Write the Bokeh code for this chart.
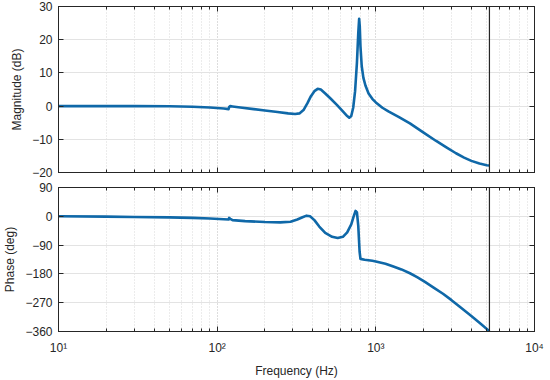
from bokeh.plotting import figure
from bokeh.layouts import column
from bokeh.models import (Range1d, LogAxis, LinearAxis, FixedTicker, LogTicker,
                          CustomJSTickFormatter, Span, ColumnDataSource)
from bokeh.embed import file_html
from bokeh.resources import INLINE

# ---------------- data ----------------
MAG_FREQ_HZ = [10, 20, 30, 50, 70, 90, 110, 118, 119, 121, 125, 140, 170, 200, 240,
               280, 310, 330, 350, 370, 390, 410, 430, 450, 480, 520, 570, 620, 660,
               680, 700, 720, 740, 760, 775, 785, 792, 800, 815, 835, 860, 900, 950,
               1000, 1100, 1200, 1400, 1640, 2000, 2400, 2800, 3200, 3600, 4000,
               4500, 5000, 5200]
MAG_DB = [0, 0, 0, -0.05, -0.2, -0.4, -0.7, -0.9, -0.3, 0.0, -0.1, -0.4, -0.9, -1.3, -1.8,
          -2.2, -2.4, -2.2, -1.2, 0.8, 3.0, 4.5, 5.2, 5.0, 3.8, 2.2, 0.3, -1.6, -3.0,
          -3.5, -3.0, -0.5, 4.5, 13.0, 22.0, 26.3, 24.0, 18.0, 12.0, 8.5, 6.2, 3.8, 2.2,
          1.1, -0.5, -1.6, -3.3, -5.2, -8.0, -10.5, -12.5, -14.2, -15.5, -16.5,
          -17.3, -17.8, -17.9]

PHASE_FREQ_HZ = [10, 20, 30, 50, 70, 90, 110, 118, 119, 121, 125, 150, 200, 250, 290,
                 320, 345, 366, 385, 410, 440, 480, 530, 575, 620, 660, 700, 725, 745,
                 760, 775, 790, 800, 850, 950, 1000, 1150, 1290, 1450, 1640, 1820,
                 2040, 2300, 2650, 3000, 3365, 3980, 4500, 5200]
PHASE_DEG = [0, -1, -2, -3.5, -5, -7, -9, -10, -5, -8, -12, -15, -18, -19, -17,
             -10, -3, 2, 0, -12, -32, -52, -64, -68, -64, -50, -25, 0, 17,
             12, -30, -110, -133, -136, -139, -141, -148, -157, -166, -178, -190,
             -205, -222, -242, -262, -282, -311, -333, -359]

NYQUIST_HZ = 5200
MAG_TICKS = [-20, -10, 0, 10, 20, 30]
PHASE_TICKS = [-360, -270, -180, -90, 0, 90]
X_LIMITS = (10, 10000)
MAG_LIMITS = (-20, 30)
PHASE_LIMITS = (-360, 90)

# ---------------- style ----------------
FONT = "Liberation Sans"
TXT = "#262626"
LINE = "#0f68a8"
W = 550
LEFT = 53
RIGHT = 16

xr = Range1d(*X_LIMITS)

sup_code = """
const sup = {"0":"\u2070","1":"\u00b9","2":"\u00b2","3":"\u00b3","4":"\u2074","5":"\u2075",
             "6":"\u2076","7":"\u2077","8":"\u2078","9":"\u2079","-":"\u207b"};
const e = Math.round(Math.log10(tick));
return "10" + String(e).split("").map(c => sup[c]).join("");
"""
blank_code = "return '';"


def style_axis(ax, labels=True):
    ax.axis_line_color = TXT
    ax.major_tick_line_color = TXT
    ax.minor_tick_line_color = TXT
    ax.major_tick_in = 5
    ax.major_tick_out = 0
    ax.minor_tick_in = 3
    ax.minor_tick_out = 0
    ax.major_label_text_font = FONT
    ax.major_label_text_font_size = "12px"
    ax.major_label_text_color = TXT
    ax.axis_label_text_font = FONT
    ax.axis_label_text_font_size = "12px"
    ax.axis_label_text_color = TXT
    ax.axis_label_text_font_style = "normal"
    if not labels:
        ax.formatter = CustomJSTickFormatter(code=blank_code)
        ax.major_label_standoff = 0
        ax.major_label_text_font_size = "1px"


def make_panel(height, yr, yticks, ylabel, show_x, top_border, bottom_border):
    p = figure(width=W, height=height, x_axis_type="log", x_range=xr,
               y_range=Range1d(*yr), output_backend="svg", toolbar_location=None,
               min_border_left=LEFT, min_border_right=RIGHT,
               min_border_top=top_border, min_border_bottom=bottom_border,
               x_axis_location=None, y_axis_location=None)
    p.background_fill_color = "white"
    p.border_fill_color = "white"
    p.outline_line_color = TXT

    xt = LogTicker(num_minor_ticks=10)
    yt = FixedTicker(ticks=yticks)

    bottom = LogAxis(ticker=xt)
    style_axis(bottom, labels=show_x)
    if show_x:
        bottom.formatter = CustomJSTickFormatter(code=sup_code)
        bottom.axis_label = "Frequency (Hz)"
        bottom.major_label_standoff = 9
        bottom.axis_label_standoff = 6
    p.add_layout(bottom, "below")

    top = LogAxis(ticker=xt)
    style_axis(top, labels=False)
    p.add_layout(top, "above")

    left = LinearAxis(ticker=yt, axis_label=ylabel)
    style_axis(left)
    left.major_label_standoff = 6
    left.axis_label_standoff = 5
    p.add_layout(left, "left")

    right = LinearAxis(ticker=yt)
    style_axis(right, labels=False)
    p.add_layout(right, "right")

    p.xgrid.ticker = xt
    p.ygrid.ticker = yt
    p.xgrid.grid_line_color = "#d9d9d9"
    p.xgrid.grid_line_dash = "1 2"
    p.xgrid.minor_grid_line_color = "#d9d9d9"
    p.xgrid.minor_grid_line_dash = "1 2"
    p.ygrid.grid_line_color = "#e3e3e3"
    return p


p1 = make_panel(180, MAG_LIMITS, MAG_TICKS, "Magnitude (dB)", False, 6, 8)
p1.line(x="f", y="v", source=ColumnDataSource(dict(f=MAG_FREQ_HZ, v=MAG_DB)),
        line_color=LINE, line_width=2.6, line_join="round")
p1.add_layout(Span(location=NYQUIST_HZ, dimension="height", line_color=TXT, line_width=1.2))

p2 = make_panel(200, PHASE_LIMITS, PHASE_TICKS, "Phase (deg)", True, 7, 48)
p2.line(x="f", y="v", source=ColumnDataSource(dict(f=PHASE_FREQ_HZ, v=PHASE_DEG)),
        line_color=LINE, line_width=2.6, line_join="round")
p2.add_layout(Span(location=NYQUIST_HZ, dimension="height", line_color=TXT, line_width=1.2))

layout = column(p1, p2, spacing=0)
open("out.html", "w").write(file_html(layout, INLINE))
